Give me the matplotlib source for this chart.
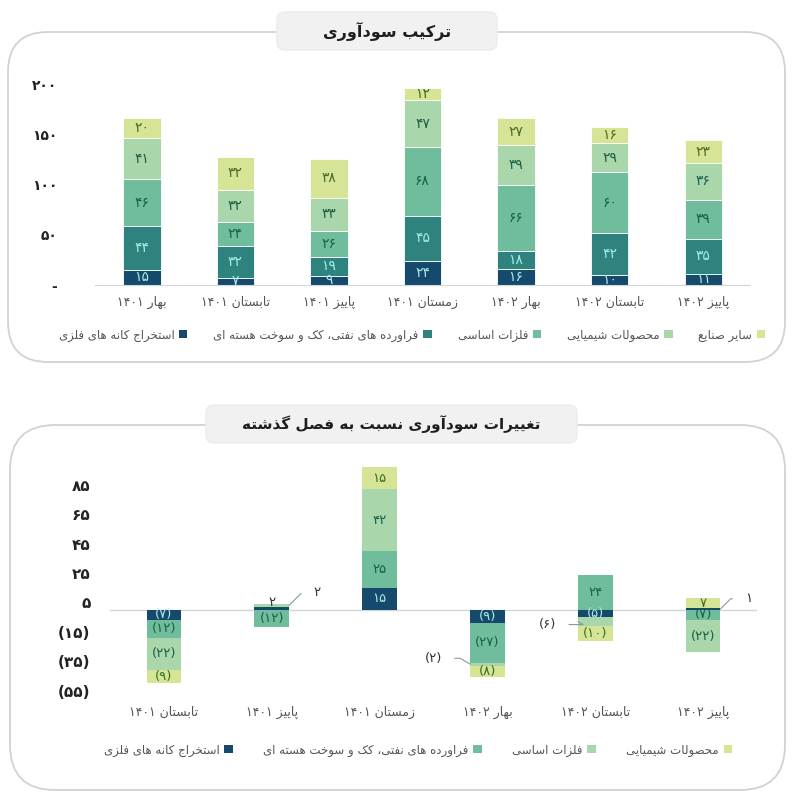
import numpy as np
import matplotlib
matplotlib.use("Agg")
import matplotlib.pyplot as plt
from matplotlib.patches import FancyBboxPatch, Patch

plt.rcParams['font.family'] = ['DejaVu Sans']

# --- minimal persian shaping (matplotlib has no bidi / joining) ---
FORMS = {
    'ا': ('\uFE8D', '\uFE8E', None, None), 'آ': ('\uFE81', '\uFE82', None, None),
    'ب': ('\uFE8F', '\uFE90', '\uFE91', '\uFE92'), 'ت': ('\uFE95', '\uFE96', '\uFE97', '\uFE98'),
    'ث': ('\uFE99', '\uFE9A', '\uFE9B', '\uFE9C'), 'ج': ('\uFE9D', '\uFE9E', '\uFE9F', '\uFEA0'),
    'ح': ('\uFEA1', '\uFEA2', '\uFEA3', '\uFEA4'), 'خ': ('\uFEA5', '\uFEA6', '\uFEA7', '\uFEA8'),
    'د': ('\uFEA9', '\uFEAA', None, None), 'ذ': ('\uFEAB', '\uFEAC', None, None),
    'ر': ('\uFEAD', '\uFEAE', None, None), 'ز': ('\uFEAF', '\uFEB0', None, None),
    'س': ('\uFEB1', '\uFEB2', '\uFEB3', '\uFEB4'), 'ش': ('\uFEB5', '\uFEB6', '\uFEB7', '\uFEB8'),
    'ص': ('\uFEB9', '\uFEBA', '\uFEBB', '\uFEBC'), 'ض': ('\uFEBD', '\uFEBE', '\uFEBF', '\uFEC0'),
    'ط': ('\uFEC1', '\uFEC2', '\uFEC3', '\uFEC4'), 'ظ': ('\uFEC5', '\uFEC6', '\uFEC7', '\uFEC8'),
    'ع': ('\uFEC9', '\uFECA', '\uFECB', '\uFECC'), 'غ': ('\uFECD', '\uFECE', '\uFECF', '\uFED0'),
    'ف': ('\uFED1', '\uFED2', '\uFED3', '\uFED4'), 'ق': ('\uFED5', '\uFED6', '\uFED7', '\uFED8'),
    'ل': ('\uFEDD', '\uFEDE', '\uFEDF', '\uFEE0'), 'م': ('\uFEE1', '\uFEE2', '\uFEE3', '\uFEE4'),
    'ن': ('\uFEE5', '\uFEE6', '\uFEE7', '\uFEE8'), 'ه': ('\uFEE9', '\uFEEA', '\uFEEB', '\uFEEC'),
    'و': ('\uFEED', '\uFEEE', None, None), 'ي': ('\uFEF1', '\uFEF2', '\uFEF3', '\uFEF4'),
    'ی': ('\uFBFC', '\uFBFD', '\uFBFE', '\uFBFF'), 'پ': ('\uFB56', '\uFB57', '\uFB58', '\uFB59'),
    'چ': ('\uFB7A', '\uFB7B', '\uFB7C', '\uFB7D'), 'ژ': ('\uFB8A', '\uFB8B', None, None),
    'ک': ('\uFB8E', '\uFB8F', '\uFB90', '\uFB91'), 'گ': ('\uFB92', '\uFB93', '\uFB94', '\uFB95'),
}


def dual(c):
    return c in FORMS and FORMS[c][2] is not None


def shape_word(w):
    out = []
    for i, c in enumerate(w):
        if c not in FORMS:
            out.append(c)
            continue
        prev = w[i - 1] if i > 0 else ''
        nxt = w[i + 1] if i + 1 < len(w) else ''
        jp = dual(prev)
        jn = dual(c) and nxt in FORMS
        iso, fin, ini, med = FORMS[c]
        if jp and jn:
            out.append(med)
        elif jp:
            out.append(fin)
        elif jn:
            out.append(ini)
        else:
            out.append(iso)
    return ''.join(out)


def fa(s):
    words = s.split(' ')
    vis = []
    for w in words:
        if all(ch in '۰۱۲۳۴۵۶۷۸۹()' for ch in w):
            vis.append(w)
        else:
            vis.append(shape_word(w)[::-1])
    return ' '.join(vis[::-1])


def fnum(v):
    d = ''.join('۰۱۲۳۴۵۶۷۸۹'[int(ch)] for ch in str(abs(int(v))))
    return '(' + d + ')' if v < 0 else d


# --- data ---
quarters_top = ['بهار ۱۴۰۱', 'تابستان ۱۴۰۱', 'پاییز ۱۴۰۱', 'زمستان ۱۴۰۱',
                'بهار ۱۴۰۲', 'تابستان ۱۴۰۲', 'پاییز ۱۴۰۲']
series_names = ['استخراج کانه های فلزی', 'فراورده های نفتی، کک و سوخت هسته ای',
                'فلزات اساسی', 'محصولات شیمیایی', 'سایر صنایع']
mining = [15, 7, 9, 24, 16, 10, 11]
oil = [44, 32, 19, 45, 18, 42, 35]
metals = [46, 24, 26, 68, 66, 60, 39]
chemicals = [41, 32, 33, 47, 39, 29, 36]
others = [20, 32, 38, 12, 27, 16, 23]

quarters_chg = ['تابستان ۱۴۰۱', 'پاییز ۱۴۰۱', 'زمستان ۱۴۰۱',
                'بهار ۱۴۰۲', 'تابستان ۱۴۰۲', 'پاییز ۱۴۰۲']
mining_chg = [-7, 2, 15, -9, -5, 1]
oil_chg = [-12, -12, 25, -27, 24, -7]
metals_chg = [-22, 2, 42, -2, -6, -22]
chem_chg = [-9, 0, 15, -8, -10, 7]

top_colors = ['#154a6c', '#2f837e', '#6fbd9c', '#a9d6ab', '#d5e595']
top_text = ['#a8ece6', '#a8ece6', '#1d5e45', '#1d5e45', '#4a6a2a']
chg_colors = ['#154a6c', '#6fbd9c', '#a9d6ab', '#d5e595']
chg_text = ['#a8ece6', '#1d5e45', '#1d5e45', '#3f6b2a']

W, H = 800, 802
fig = plt.figure(figsize=(8, 8.02), dpi=100)


def fx(px):
    return px / W


def fy(py):
    return 1 - py / H


def panel(x0, y0, x1, y1, r):
    p = FancyBboxPatch((fx(x0), fy(y1)), fx(x1 - x0), (y1 - y0) / H,
                       boxstyle="round,pad=0,rounding_size=%f" % (r / W),
                       transform=fig.transFigure, facecolor='white',
                       edgecolor='#d2d2d2', linewidth=1.3, zorder=-2)
    fig.patches.append(p)


def title_box(x0, y0, x1, y1, text, size):
    p = FancyBboxPatch((fx(x0), fy(y1)), fx(x1 - x0), (y1 - y0) / H,
                       boxstyle="round,pad=0,rounding_size=%f" % (8 / W),
                       transform=fig.transFigure, facecolor='#f1f1f1',
                       edgecolor='#ececec', linewidth=1, zorder=-1)
    fig.patches.append(p)
    fig.text(fx((x0 + x1) / 2), fy((y0 + y1) / 2), fa(text), ha='center', va='center',
             fontsize=size, fontweight='bold', color='#1e1e1e')


panel(8, 32, 785, 362, 40)
panel(10, 425, 785, 790, 45)
title_box(277, 12, 497, 50, 'ترکیب سودآوری', 11.5)
title_box(206, 405, 577, 443, 'تغییرات سودآوری نسبت به فصل گذشته', 11)

# --- top chart ---
ax1 = fig.add_axes([fx(95), fy(285), fx(750 - 95), (285 - 84) / H])
top_series = [mining, oil, metals, chemicals, others]
x = np.arange(len(quarters_top))
bottom = np.zeros(len(x))
for vals, col, tc in zip(top_series, top_colors, top_text):
    vals = np.array(vals)
    ax1.bar(x, vals, 0.4, bottom=bottom, color=col, edgecolor='white', linewidth=0.6)
    for xi, b, v in zip(x, bottom, vals):
        ax1.text(xi, b + v / 2, fnum(v), ha='center', va='center', fontsize=10,
                 color=tc)
    bottom += vals
ax1.set_xlim(-0.5, len(x) - 0.5)
ax1.set_ylim(0, 200)
ax1.set_yticks([0, 50, 100, 150, 200])
ax1.set_yticklabels(['-'] + [fnum(v) for v in [50, 100, 150, 200]], fontsize=10,
                    fontweight='bold', color='#222222')
ax1.set_xticks(x)
ax1.set_xticklabels([fa(q) for q in quarters_top], fontsize=9, color='#555555')
for s in ['top', 'right', 'left']:
    ax1.spines[s].set_visible(False)
ax1.spines['bottom'].set_color('#cfd6d6')
ax1.tick_params(length=0)
ax1.tick_params(axis='y', pad=27)
ax1.tick_params(axis='x', pad=8)
ax1.patch.set_alpha(0)

handles = [Patch(facecolor=c) for c in top_colors]
fig.legend(handles, [fa(n) for n in series_names], loc='center',
           bbox_to_anchor=(fx(412), fy(335)), ncol=5, frameon=False,
           markerfirst=False, fontsize=8.5, handlelength=0.7, handleheight=0.7,
           columnspacing=2.2, handletextpad=0.4, labelcolor='#555555')

# --- change chart ---
ax2 = fig.add_axes([fx(110), fy(695), fx(757 - 110), (695 - 463) / H])
chg_series = [mining_chg, oil_chg, metals_chg, chem_chg]
x2 = np.arange(len(quarters_chg))
pos = np.zeros(len(x2))
neg = np.zeros(len(x2))
segs = []
for vals, col, tc in zip(chg_series, chg_colors, chg_text):
    vals = np.array(vals, dtype=float)
    base = np.where(vals >= 0, pos, neg)
    ax2.bar(x2, vals, 0.32, bottom=base, color=col, linewidth=0)
    segs.append((vals, base.copy(), tc))
    pos += np.where(vals >= 0, vals, 0)
    neg += np.where(vals < 0, vals, 0)

# small segments labelled outside the bar: (series, bar) -> text offset
callouts = {(2, 1): (0.42, 9, 45), (2, 3): (-0.5, 4, -30),
            (2, 4): (-0.44, -2, -30), (0, 5): (0.42, 7, 45)}
for si, (vals, base, tc) in enumerate(segs):
    for xi, v, b in zip(x2, vals, base):
        if v == 0:
            continue
        mid = b + v / 2
        if (si, xi) in callouts:
            dx, dy, ang = callouts[(si, xi)]
            edge = 0.16 if dx > 0 else -0.16
            ax2.annotate(fnum(v), xy=(xi + edge, mid), xytext=(xi + dx, mid + dy),
                         fontsize=9.5, color='#333333', ha='center', va='center',
                         arrowprops=dict(arrowstyle='-', color='#8a9a9a', lw=0.8,
                                         shrinkA=7, shrinkB=0,
                                         connectionstyle='angle,angleA=0,angleB=%d,rad=0' % ang))
        elif abs(v) < 4:
            ax2.text(xi, b + v + 3, fnum(v), ha='center', va='center', fontsize=9.5,
                     color='#333333')
        else:
            off = 1 if (v > 0 and b == 0 and v < 9 and si > 0) else 0
            ax2.text(xi, mid + off, fnum(v), ha='center', va='center', fontsize=9.5,
                     color=tc)

ax2.axhline(0, color='#cfd6d6', lw=1, zorder=0)
ax2.set_xlim(-0.5, len(x2) - 0.5)
ax2.set_ylim(-58, 100)
yt = [85, 65, 45, 25, 5, -15, -35, -55]
ax2.set_yticks(yt)
ax2.set_yticklabels([fnum(v) for v in yt], fontsize=11, fontweight='bold', color='#222222')
ax2.set_xticks(x2)
ax2.set_xticklabels([fa(q) for q in quarters_chg], fontsize=9, color='#555555')
for s in ax2.spines.values():
    s.set_visible(False)
ax2.tick_params(length=0)
ax2.tick_params(axis='y', pad=14)
ax2.tick_params(axis='x', pad=8)
ax2.patch.set_alpha(0)

handles2 = [Patch(facecolor=c) for c in chg_colors]
fig.legend(handles2, [fa(n) for n in series_names[:4]], loc='center',
           bbox_to_anchor=(fx(418), fy(750)), ncol=4, frameon=False,
           markerfirst=False, fontsize=8.5, handlelength=0.7, handleheight=0.7,
           columnspacing=2.6, handletextpad=0.4, labelcolor='#555555')

fig.savefig('out.png', dpi=100, facecolor='white')
